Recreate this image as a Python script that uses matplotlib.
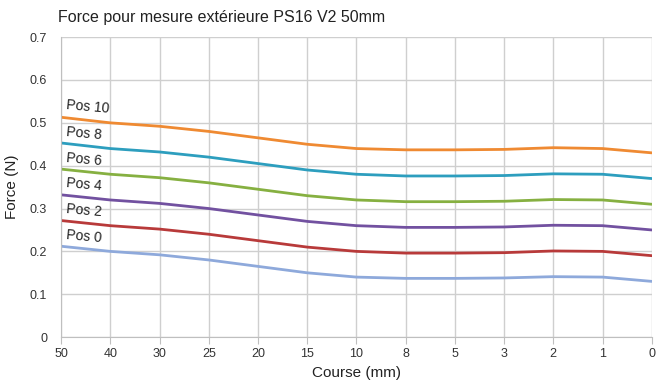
import matplotlib
matplotlib.use("Agg")
import matplotlib.pyplot as plt

plt.rcParams["font.family"] = ["Liberation Sans", "DejaVu Sans"]

courses = ["50", "40", "30", "25", "20", "15", "10", "8", "5", "3", "2", "1", "0"]
pos0 = [0.212, 0.200, 0.192, 0.180, 0.165, 0.150, 0.140, 0.137, 0.137, 0.138, 0.141, 0.140, 0.130]
pos2 = [0.272, 0.260, 0.252, 0.240, 0.225, 0.210, 0.200, 0.196, 0.196, 0.197, 0.201, 0.200, 0.190]
pos4 = [0.332, 0.320, 0.312, 0.300, 0.285, 0.270, 0.260, 0.256, 0.256, 0.257, 0.261, 0.260, 0.250]
pos6 = [0.392, 0.380, 0.372, 0.360, 0.345, 0.330, 0.320, 0.316, 0.316, 0.317, 0.321, 0.320, 0.310]
pos8 = [0.453, 0.440, 0.432, 0.420, 0.405, 0.390, 0.380, 0.376, 0.376, 0.377, 0.381, 0.380, 0.370]
pos10 = [0.513, 0.500, 0.492, 0.480, 0.465, 0.450, 0.440, 0.437, 0.437, 0.438, 0.442, 0.440, 0.430]

series = [
    ("Pos 0", pos0, "#8EA9DB"),
    ("Pos 2", pos2, "#B83A3A"),
    ("Pos 4", pos4, "#7251A0"),
    ("Pos 6", pos6, "#86B041"),
    ("Pos 8", pos8, "#2D9EBE"),
    ("Pos 10", pos10, "#EF8A32"),
]

fig = plt.figure(figsize=(6.57, 3.87), dpi=100)
ax = fig.add_axes([0.093, 0.129, 0.899, 0.775])
x = list(range(len(courses)))
for name, vals, col in series:
    ax.plot(x, vals, color=col, lw=2.0, solid_capstyle="round")
    ax.text(x[0] + 0.09, vals[0] + 0.003, name, fontsize=10, color="#222222",
            rotation=-5, ha="left", va="bottom")

ax.set_xlim(0, len(courses) - 1)
ax.set_ylim(0, 0.7)
ax.set_xticks(x)
ax.set_xticklabels(courses)
ax.set_yticks([0, 0.1, 0.2, 0.3, 0.4, 0.5, 0.6, 0.7])
ax.set_yticklabels(["0", "0.1", "0.2", "0.3", "0.4", "0.5", "0.6", "0.7"])
ax.grid(True, color="#CFCFCF", lw=1.0)
ax.set_axisbelow(True)
for s in ["top", "right"]:
    ax.spines[s].set_visible(False)
ax.spines["left"].set_color("#BFBFBF")
ax.spines["bottom"].set_color("#BFBFBF")
ax.tick_params(axis="y", length=0, labelsize=9, colors="#333333", pad=10)
ax.tick_params(axis="x", length=5, color="#BFBFBF", labelsize=9, labelcolor="#333333", pad=3)
ax.set_xlabel("Course (mm)", fontsize=11, color="#222222", labelpad=4)
ax.set_ylabel("Force (N)", fontsize=11, color="#222222", labelpad=8)
fig.text(0.088, 0.955, "Force pour mesure extérieure PS16 V2 50mm", fontsize=11.5, color="#222222",
         ha="left", va="center")
fig.savefig("out.png", dpi=100)
